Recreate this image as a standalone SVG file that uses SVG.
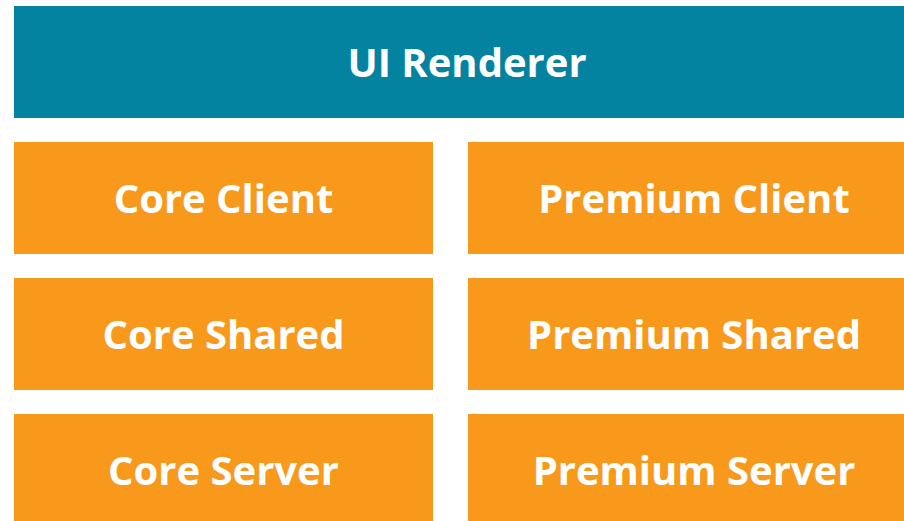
<svg xmlns="http://www.w3.org/2000/svg" width="904" height="521" viewBox="0 0 904 521">
<style>
.top{fill:#03839f}
.box{fill:#f8991c}
.lbl{font-family:"Open Sans","Noto Sans",sans-serif;font-weight:bold;font-size:40px;fill:#ffffff;text-anchor:middle}
</style>
<rect width="904" height="521" fill="#ffffff"/>
<g id="ui-renderer"><rect class="top" x="14" y="6" width="906" height="112"/><text class="lbl" x="467" y="77">UI Renderer</text></g>
<g id="core-client"><rect class="box" x="14" y="142" width="419" height="112"/><text class="lbl" x="223.5" y="213">Core Client</text></g>
<g id="premium-client"><rect class="box" x="468" y="142" width="452" height="112"/><text class="lbl" x="694" y="213">Premium Client</text></g>
<g id="core-shared"><rect class="box" x="14" y="278" width="419" height="112"/><text class="lbl" x="223.5" y="349">Core Shared</text></g>
<g id="premium-shared"><rect class="box" x="468" y="278" width="452" height="112"/><text class="lbl" x="694" y="349">Premium Shared</text></g>
<g id="core-server"><rect class="box" x="14" y="414" width="419" height="112"/><text class="lbl" x="223.5" y="485">Core Server</text></g>
<g id="premium-server"><rect class="box" x="468" y="414" width="452" height="112"/><text class="lbl" x="694" y="485">Premium Server</text></g>
<g id="connectors"></g>
</svg>
